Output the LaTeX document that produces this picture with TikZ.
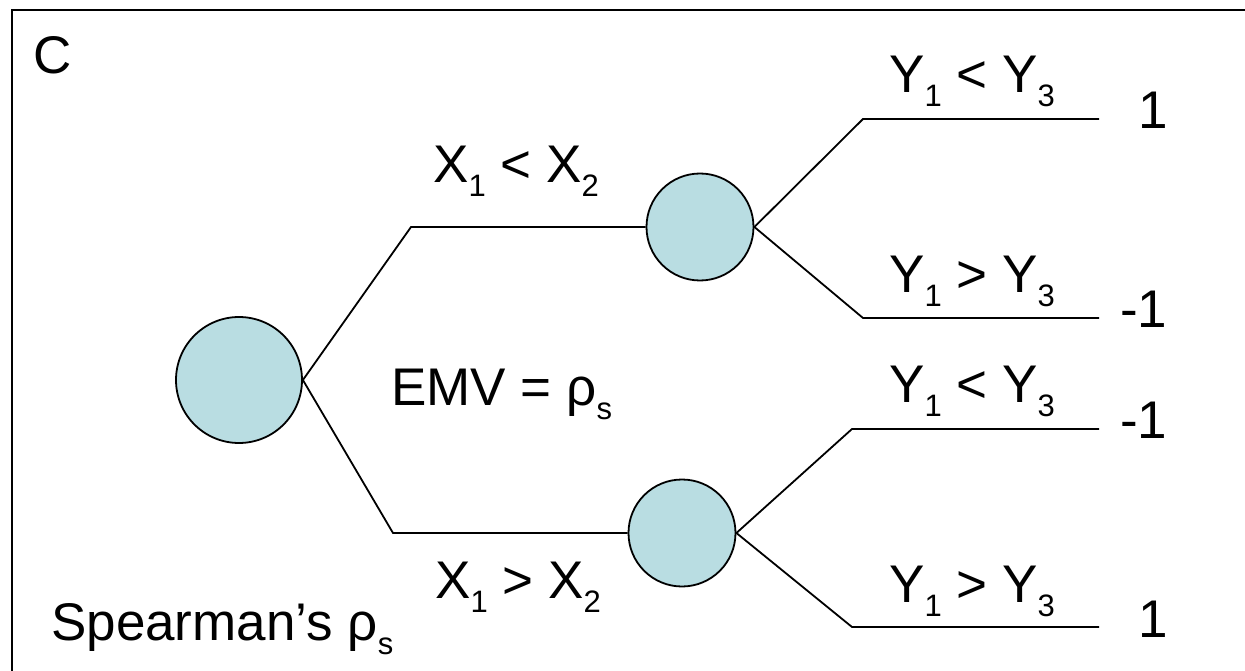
\documentclass[tikz,border=0pt]{standalone}
\usepackage{fontspec}
\setmainfont{Liberation Sans}
\definecolor{nodefill}{RGB}{185,221,226}
\newcommand{\lo}[1]{\raisebox{-14pt}{\fontsize{31}{31}\selectfont #1}}
\begin{document}
\begin{tikzpicture}[x=1pt,y=-1pt,
  chance/.style={circle, draw=black, line width=1.8pt, fill=nodefill, inner sep=0pt},
  branch/.style={line width=1.8pt, black},
  lbl/.style={anchor=base west, inner sep=0pt, font=\fontsize{53}{60}\selectfont}]
\useasboundingbox (0,0) rectangle (1245,671);
\begin{scope}
\clip (0,0) rectangle (1245,671);
\draw[line width=2pt] (12,10) rectangle (1265,690);
\end{scope}
% chance nodes
\node[chance, minimum size=126pt] (root) at (239,380) {};
\node[chance, minimum size=107pt] (up) at (700,227) {};
\node[chance, minimum size=107pt] (dn) at (682,533) {};
% corner points and free ends
\coordinate (a1) at (411,227);
\coordinate (a2) at (393,533);
\coordinate (b1) at (863,119); \coordinate (b1e) at (1099,119);
\coordinate (b2) at (863,318); \coordinate (b2e) at (1099,318);
\coordinate (c1) at (852,429); \coordinate (c1e) at (1099,429);
\coordinate (c2) at (852,627); \coordinate (c2e) at (1099,627);
% branches
\draw[branch] (root.east) -- (a1) -- (up.west);
\draw[branch] (root.east) -- (a2) -- (dn.west);
\draw[branch] (up.east) -- (b1) -- (b1e);
\draw[branch] (up.east) -- (b2) -- (b2e);
\draw[branch] (dn.east) -- (c1) -- (c1e);
\draw[branch] (dn.east) -- (c2) -- (c2e);
% labels
\node[lbl] (lc) at (33,74) {C};
\node[lbl] (lx1) at (433,183) {X\lo{1} < X\lo{2}};
\node[lbl] (lx2) at (435,598) {X\lo{1} > X\lo{2}};
\node[lbl] (ly1) at (889,93) {Y\lo{1} < Y\lo{3}};
\node[lbl] (ly2) at (889,292) {Y\lo{1} > Y\lo{3}};
\node[lbl] (ly3) at (889,402) {Y\lo{1} < Y\lo{3}};
\node[lbl] (ly4) at (889,602) {Y\lo{1} > Y\lo{3}};
\node[lbl] (o1) at (1138,129) {1};
\node[lbl] (o2) at (1120,327) {-1};
\node[lbl] (o3) at (1120,438) {-1};
\node[lbl] (o4) at (1138,637) {1};
\node[lbl] (emv) at (391,405) {EMV = ρ\lo{s}};
\node[lbl] (sp) at (51,640) {Spearman’s ρ\lo{s}};
\end{tikzpicture}
\end{document}
